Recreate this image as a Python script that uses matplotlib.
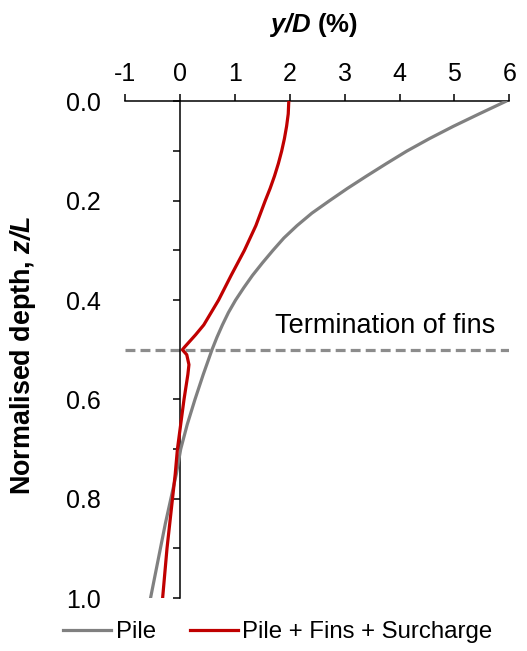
import matplotlib
matplotlib.use('Agg')
import matplotlib.pyplot as plt
from matplotlib.ticker import MultipleLocator

plt.rcParams['font.family'] = 'Liberation Sans'
plt.rcParams['mathtext.fontset'] = 'custom'
plt.rcParams['mathtext.rm'] = 'Liberation Sans'
plt.rcParams['mathtext.bfit'] = 'Liberation Sans:bold:italic'

# lateral displacement y/D (%) against normalised depth z/L
z_pile = [0.0, 0.025, 0.05, 0.075, 0.1, 0.125, 0.15, 0.175, 0.2, 0.225, 0.25,
          0.275, 0.3, 0.325, 0.35, 0.375, 0.4, 0.425, 0.45, 0.475, 0.5, 0.55,
          0.6, 0.65, 0.7, 0.75, 0.8, 0.85, 0.9, 0.95, 1.0]
y_pile = [5.93, 5.45, 4.98, 4.54, 4.13, 3.76, 3.40, 3.05, 2.72, 2.40, 2.13,
          1.89, 1.69, 1.50, 1.32, 1.16, 1.01, 0.88, 0.77, 0.67, 0.58, 0.42,
          0.27, 0.13, 0.01, -0.07, -0.17, -0.27, -0.36, -0.45, -0.54]

z_fins = [0.0, 0.025, 0.05, 0.075, 0.1, 0.125, 0.15, 0.175, 0.2, 0.25, 0.3,
          0.35, 0.4, 0.45, 0.47, 0.494, 0.5, 0.51, 0.53, 0.55, 0.6, 0.65, 0.7,
          0.75, 0.8, 0.85, 0.9, 0.95, 1.0]
y_fins = [1.98, 1.97, 1.94, 1.90, 1.85, 1.79, 1.72, 1.64, 1.55, 1.38, 1.17,
          0.93, 0.70, 0.43, 0.28, 0.085, 0.04, 0.12, 0.16, 0.14, 0.07, 0.01,
          -0.05, -0.09, -0.14, -0.19, -0.24, -0.28, -0.32]

fin_end = 0.5
x_ticks = [-1, 0, 1, 2, 3, 4, 5, 6]

fig = plt.figure(figsize=(5.27, 6.51), dpi=100)
ax = fig.add_axes([0.2378, 0.0814, 0.7286, 0.7627])

ax.plot(y_pile, z_pile, color='#808080', lw=2.3, label='Pile', zorder=3,
        solid_joinstyle='round')
ax.plot(y_fins, z_fins, color='#C00000', lw=2.3, label='Pile + Fins + Surcharge',
        zorder=4, solid_joinstyle='round')
ax.plot([x_ticks[0], x_ticks[-1]], [fin_end, fin_end], color='#8c8c8c', lw=2.3,
        dashes=(3.1, 1.6), zorder=2)
ax.text(1.72, 0.467, 'Termination of fins', fontsize=19.5, ha='left', va='baseline')

ax.set_xlim(-1, 6)
ax.set_ylim(1, 0)

for s in ['right', 'bottom']:
    ax.spines[s].set_visible(False)
ax.spines['left'].set_position(('data', 0))
ax.spines['left'].set_linewidth(1.1)
ax.spines['top'].set_linewidth(1.1)

ax.xaxis.tick_top()
ax.set_xticks(x_ticks)
ax.set_xticklabels([str(t) for t in x_ticks])
ax.tick_params(axis='x', direction='out', length=5, width=1.1, labelsize=18, pad=6)

ax.yaxis.set_major_locator(MultipleLocator(0.2))
ax.yaxis.set_minor_locator(MultipleLocator(0.1))
ax.yaxis.set_major_formatter(lambda v, p: f'{v:.1f}')
ax.tick_params(axis='y', which='both', direction='out', length=5, width=1.1)
ax.tick_params(axis='y', which='major', labelsize=18, pad=52)

ax.xaxis.set_label_position('top')
ax.set_xlabel(r'$\mathbfit{y/D}$ (%)', fontsize=18.5, fontweight='bold')
ax.xaxis.set_label_coords(0.49, 1.154)
ax.xaxis.label.set_va('center')

ax.set_ylabel(r'Normalised depth, $\mathbfit{z/L}$', fontsize=19.4, fontweight='bold')
ax.yaxis.set_label_coords(-0.266, 0.49)
ax.yaxis.label.set_va('center')

fig.legend(loc='center left', bbox_to_anchor=(0.1195, 0.0292), ncol=2,
           frameon=False, fontsize=17.3, borderpad=0, borderaxespad=0,
           handlelength=2.0, handletextpad=0.2, columnspacing=1.4)

fig.savefig('out.png', dpi=100)
